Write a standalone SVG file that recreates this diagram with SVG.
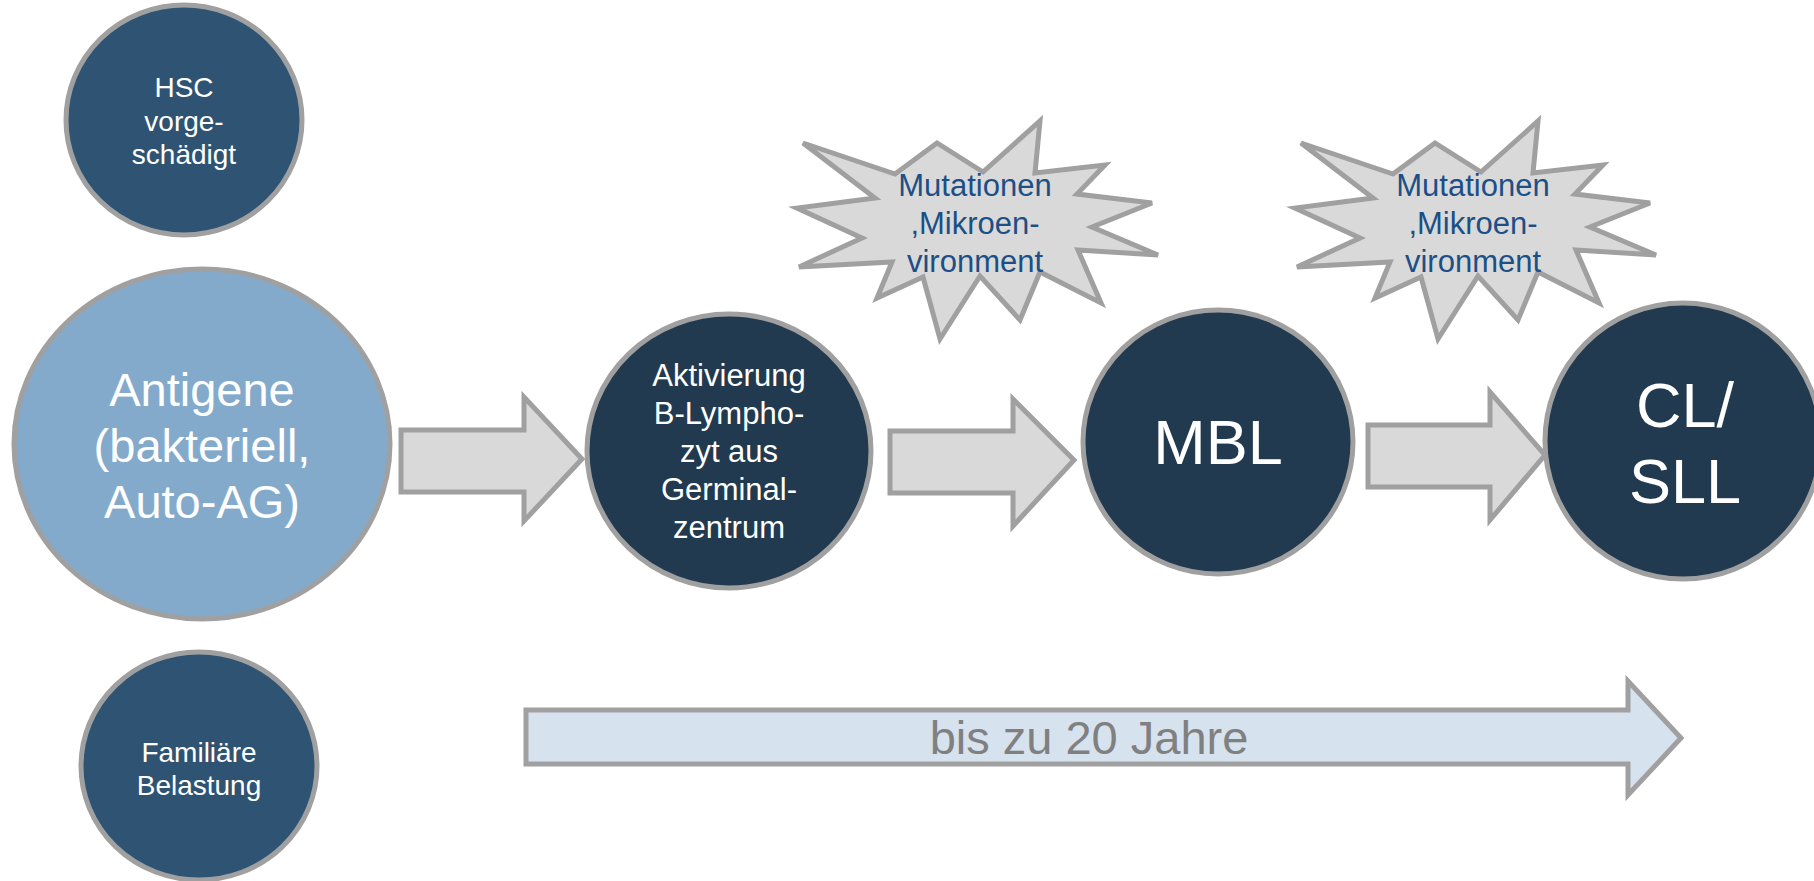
<svg xmlns="http://www.w3.org/2000/svg" width="1814" height="881" viewBox="0 0 1814 881">
<defs>
<style>
.nd{stroke:#A0A0A0;stroke-width:5}
.lt{fill:#2F5473}
.dk{fill:#213A4F}
.ag{fill:#84AACB}
.star{fill:#D9D9D9;stroke:#A0A0A0;stroke-width:5;stroke-linejoin:miter}
.arr{fill:#D9D9D9;stroke:#A0A0A0;stroke-width:5}
.tl{fill:#D6E2EE;stroke:#A0A0A0;stroke-width:5}
text{font-family:"Liberation Sans",Arial,sans-serif;text-anchor:middle}
.w{fill:#FFFFFF}
.b{fill:#1B4F86;font-size:31px}
</style>
<polygon id="burst" points="803,143 895,174 937,143 983,172 1040,121 1035,173 1105,165 1077,194 1152,203 1092,227 1158,255 1078,250 1101,303 1040,272 1020,320 980,276 940,339 923,277 877,298 892,262 799,267 862,238 797,208 875,198"/>
</defs>
<rect width="1814" height="881" fill="#FFFFFF"/>

<g id="hsc">
<ellipse class="nd lt" cx="184" cy="120" rx="118" ry="115"/>
<text class="w" font-size="28" x="184" y="97">HSC</text>
<text class="w" font-size="28" x="184" y="131">vorge-</text>
<text class="w" font-size="28" x="184" y="164">schädigt</text>
</g>

<g id="antigene">
<ellipse class="nd ag" cx="202" cy="444" rx="188" ry="175"/>
<text class="w" font-size="47" x="202" y="406">Antigene</text>
<text class="w" font-size="47" x="202" y="462">(bakteriell,</text>
<text class="w" font-size="47" x="202" y="518">Auto-AG)</text>
</g>

<g id="familiaere">
<ellipse class="nd lt" cx="199" cy="766" rx="118" ry="114"/>
<text class="w" font-size="28" x="199" y="762">Familiäre</text>
<text class="w" font-size="28" x="199" y="795">Belastung</text>
</g>

<g id="aktivierung">
<ellipse class="nd dk" cx="729" cy="451" rx="142" ry="137"/>
<text class="w" font-size="31" x="729" y="386">Aktivierung</text>
<text class="w" font-size="31" x="729" y="424">B-Lympho-</text>
<text class="w" font-size="31" x="729" y="462">zyt aus</text>
<text class="w" font-size="31" x="729" y="500">Germinal-</text>
<text class="w" font-size="31" x="729" y="538">zentrum</text>
</g>

<g id="mbl">
<ellipse class="nd dk" cx="1218" cy="442" rx="135" ry="132"/>
<text class="w" font-size="63" x="1218" y="464">MBL</text>
</g>

<g id="cll">
<ellipse class="nd dk" cx="1683" cy="441" rx="138" ry="138"/>
<text class="w" font-size="63" x="1685" y="427">CL/</text>
<text class="w" font-size="63" x="1685" y="503">SLL</text>
</g>

<g id="mutationen1">
<use href="#burst" class="star"/>
<text class="b" x="975" y="196">Mutationen</text>
<text class="b" x="975" y="234">,Mikroen-</text>
<text class="b" x="975" y="272">vironment</text>
</g>

<g id="mutationen2">
<use href="#burst" class="star" transform="translate(498,0)"/>
<text class="b" x="1473" y="196">Mutationen</text>
<text class="b" x="1473" y="234">,Mikroen-</text>
<text class="b" x="1473" y="272">vironment</text>
</g>

<g id="connectors">
<polygon class="arr" points="401,430 524,430 524,397 582,459 524,521 524,492 401,492"/>
<polygon class="arr" points="890,431 1013,431 1013,399 1074,460 1013,526 1013,493 890,493"/>
<polygon class="arr" points="1368,425 1490,425 1490,392 1545,455 1490,520 1490,487 1368,487"/>
</g>

<g id="zeitachse">
<polygon class="tl" points="526,710 1628,710 1628,681 1681,738 1628,795 1628,764 526,764"/>
<text x="1089" y="754" font-size="47" fill="#808080">bis zu 20 Jahre</text>
</g>
</svg>
